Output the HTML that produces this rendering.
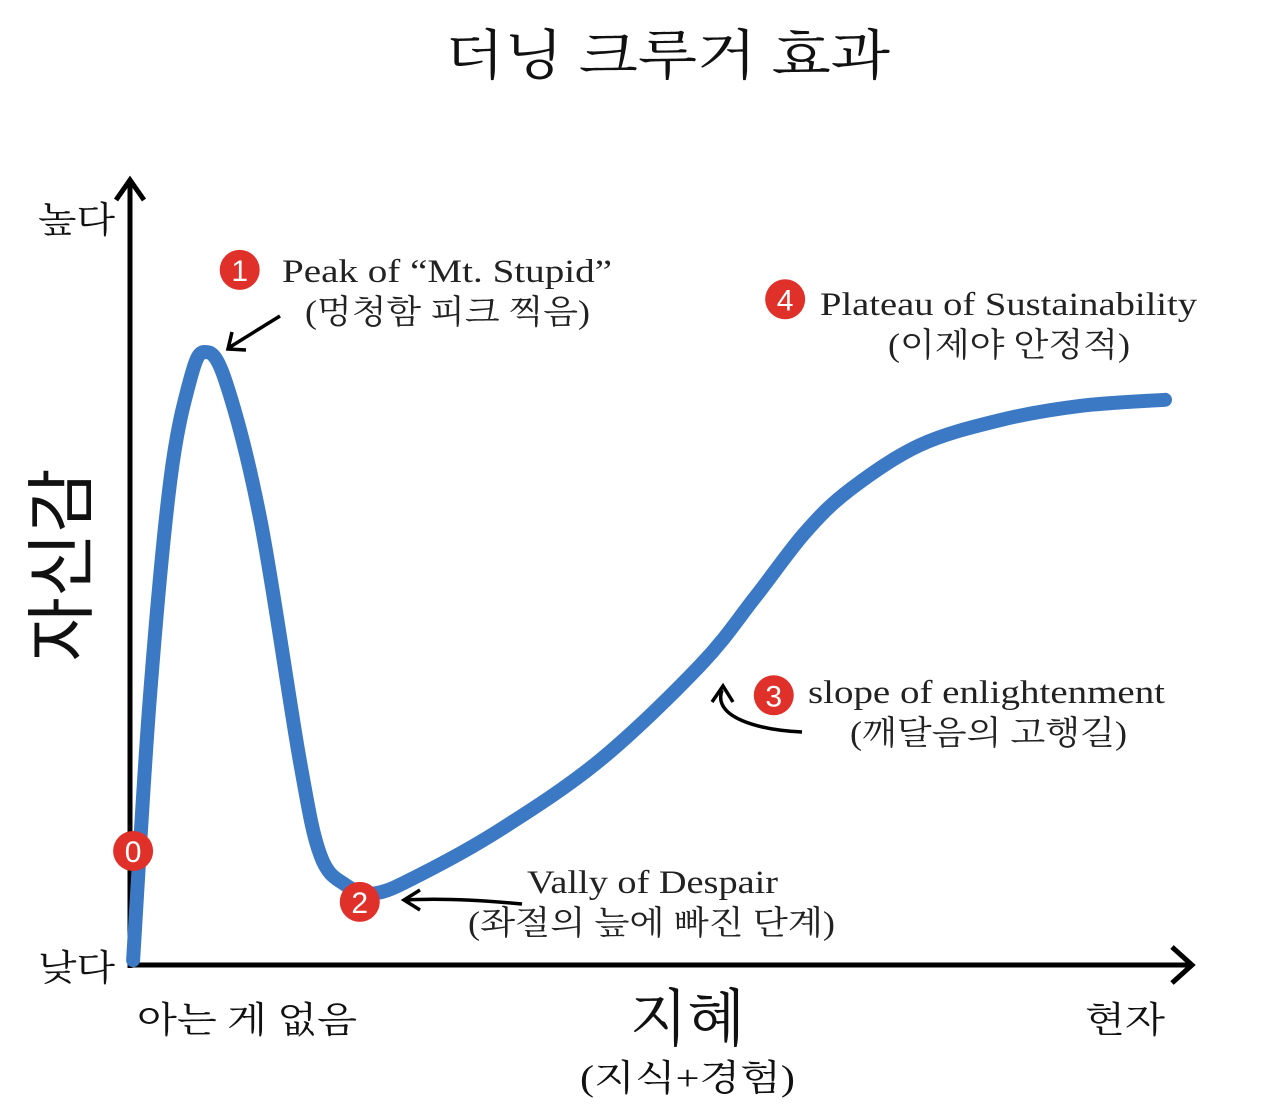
<!DOCTYPE html>
<html><head><meta charset="utf-8">
<style>
html,body{margin:0;padding:0;background:#fff;}
body{width:1280px;height:1106px;overflow:hidden;position:relative;}
svg{position:absolute;left:0;top:0;}
.k{font-family:"Liberation Sans","Noto Sans CJK KR",sans-serif;fill:#111;}
.m{font-family:"Liberation Serif","Noto Serif CJK SC",serif;fill:#111;}
.s{font-family:"Liberation Serif","Noto Serif CJK SC","Noto Sans CJK KR",serif;fill:#222;}
</style></head>
<body>
<svg id="chart" width="1280" height="1106" viewBox="0 0 1280 1106">
<text class="m" x="445" y="74" font-size="54" textLength="445" lengthAdjust="spacingAndGlyphs">더닝 크루거 효과</text>
<g>
<line x1="130" y1="968" x2="130" y2="182" stroke="#000" stroke-width="5"/>
<path d="M116,200 L130,180 L144,200" fill="none" stroke="#000" stroke-width="5"/>
</g>
<g>
<line x1="128" y1="965" x2="1190" y2="965" stroke="#000" stroke-width="5"/>
<path d="M1172,947 L1192,965 L1172,983" fill="none" stroke="#000" stroke-width="5"/>
</g>
<text class="m" x="38" y="232" font-size="36" textLength="77" lengthAdjust="spacingAndGlyphs">높다</text>
<text class="m" x="38" y="980" font-size="36" textLength="77" lengthAdjust="spacingAndGlyphs">낮다</text>
<text class="k" transform="translate(86,565) rotate(-90)" font-size="70" text-anchor="middle">자신감</text>
<text class="m" x="137" y="1032" font-size="36" textLength="220" lengthAdjust="spacingAndGlyphs">아는 게 없음</text>
<text class="m" x="1085" y="1032" font-size="36" textLength="80" lengthAdjust="spacingAndGlyphs">현자</text>
<text class="m" x="630" y="1040" font-size="62" textLength="115" lengthAdjust="spacingAndGlyphs">지혜</text>
<text class="m" x="580" y="1090" font-size="36" textLength="215" lengthAdjust="spacingAndGlyphs">(지식+경험)</text>
<g id="curve-layer"></g>
<g fill="none" stroke="#000" stroke-width="3.5">
<path d="M280,316 L230,347"/><path d="M232,332 L228,349 L246,350"/>
<path d="M522,904 C480,900 440,898 405,900"/><path d="M420,890 L404,900 L420,910"/>
<path d="M802,732 C760,730 712,718 722,690"/><path d="M712,702 L723,686 L733,702"/>
</g>
<g id="markers"></g>
<text class="s" x="282" y="282" font-size="33" textLength="330" lengthAdjust="spacingAndGlyphs">Peak of “Mt. Stupid”</text>
<text class="s" x="305" y="323" font-size="33" textLength="285" lengthAdjust="spacingAndGlyphs">(멍청함 피크 찍음)</text>
<text class="s" x="820" y="315" font-size="33" textLength="377" lengthAdjust="spacingAndGlyphs">Plateau of Sustainability</text>
<text class="s" x="888" y="356" font-size="33" textLength="242" lengthAdjust="spacingAndGlyphs">(이제야 안정적)</text>
<text class="s" x="808" y="703" font-size="33" textLength="357" lengthAdjust="spacingAndGlyphs">slope of enlightenment</text>
<text class="s" x="850" y="744" font-size="33" textLength="277" lengthAdjust="spacingAndGlyphs">(깨달음의 고행길)</text>
<text class="s" x="527" y="893" font-size="33" textLength="251" lengthAdjust="spacingAndGlyphs">Vally of Despair</text>
<text class="s" x="468" y="934" font-size="33" textLength="367" lengthAdjust="spacingAndGlyphs">(좌절의 늪에 빠진 단계)</text>
</svg>
<script>
const knowledge=[0.3,1.9,3.9,5.8,7.2,9.2,12.6,16.4,18.4,20.8,23.7,28.0,35.7,45.4,55.1,60.4,65.2,69.6,76.3,84.1,91.8,100];
const confidence=[0.8,43.2,79.1,95.4,100,95.4,72.6,33.4,17.9,13.1,11.7,14.7,22.0,33.4,48.9,60.0,70.5,77.6,84.8,88.9,91.2,92.2];
const markerLabels=["0","1","2","3","4"];
const markerX=[0.3,10.6,22.2,62.2,63.3];
const markerY=[18.6,113.4,10.3,44.0,108.6];
const xS=v=>130+v*10.35;
const yS=v=>965-v*6.13;
const NS="http://www.w3.org/2000/svg";
const pts=knowledge.map((k,i)=>[xS(k),yS(confidence[i])]);
let d="M"+pts[0][0]+","+pts[0][1];
for(let i=0;i<pts.length-1;i++){
 const p0=pts[Math.max(0,i-1)],p1=pts[i],p2=pts[i+1],p3=pts[Math.min(pts.length-1,i+2)];
 const c1=[p1[0]+(p2[0]-p0[0])/6,p1[1]+(p2[1]-p0[1])/6];
 const c2=[p2[0]-(p3[0]-p1[0])/6,p2[1]-(p3[1]-p1[1])/6];
 d+=" C"+c1[0]+","+c1[1]+" "+c2[0]+","+c2[1]+" "+p2[0]+","+p2[1];
}
const path=document.createElementNS(NS,"path");
path.setAttribute("d",d);path.setAttribute("fill","none");path.setAttribute("stroke","#3b79c4");
path.setAttribute("stroke-width","14");path.setAttribute("stroke-linecap","round");path.setAttribute("stroke-linejoin","round");


document.getElementById("curve-layer").appendChild(path);
const mg=document.getElementById("markers");
markerLabels.forEach((t,i)=>{
 const g=document.createElementNS(NS,"g");
 
 
 const c=document.createElementNS(NS,"circle");
 c.setAttribute("cx",xS(markerX[i]));c.setAttribute("cy",yS(markerY[i]));c.setAttribute("r","20");c.setAttribute("fill","#e0302a");
 const tx=document.createElementNS(NS,"text");
 tx.setAttribute("x",xS(markerX[i]));tx.setAttribute("y",yS(markerY[i])+11);tx.setAttribute("text-anchor","middle");
 tx.setAttribute("font-size","30");tx.setAttribute("fill","#fff");tx.setAttribute("font-family","Liberation Sans, sans-serif");
 tx.textContent=t;
 g.appendChild(c);g.appendChild(tx);mg.appendChild(g);
});
</script>
</body></html>
